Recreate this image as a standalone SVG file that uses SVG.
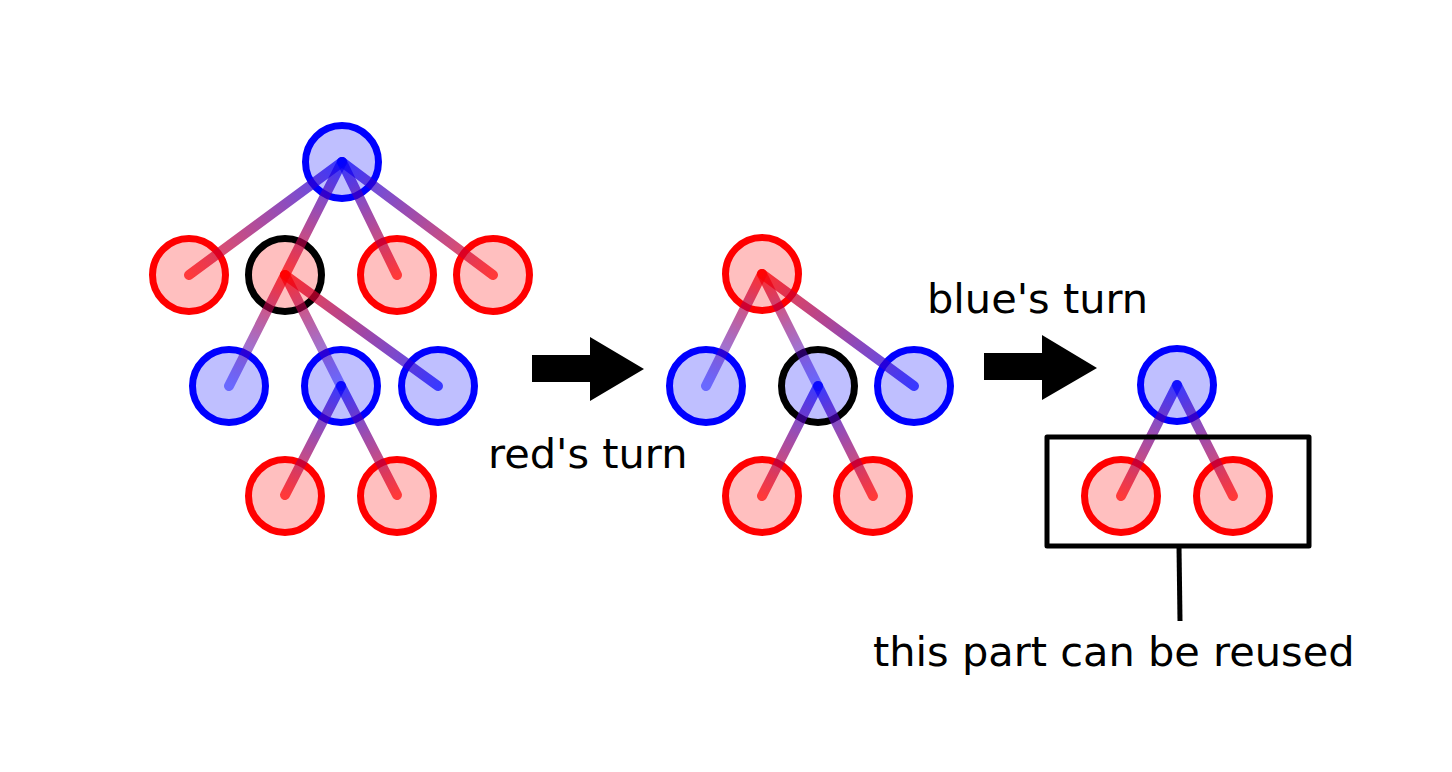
<svg xmlns="http://www.w3.org/2000/svg" width="1452" height="772" viewBox="0 0 1452 772">
<style>
.b{fill:#bfbfff;stroke:#0000ff;stroke-width:7}
.r{fill:#ffbfbf;stroke:#ff0000;stroke-width:7}
.k{stroke:#000000}
.e{stroke-width:10;stroke-linecap:round;fill:none}
.t{font-family:"DejaVu Sans","Liberation Sans",sans-serif;font-size:41.5px;fill:#000}
</style>
<defs>
<linearGradient id="g1" gradientUnits="userSpaceOnUse" x1="342" y1="162" x2="189" y2="275"><stop offset="0" stop-color="#0000ff" stop-opacity="0.7"/><stop offset="1" stop-color="#ff0000" stop-opacity="0.7"/></linearGradient>
<linearGradient id="g2" gradientUnits="userSpaceOnUse" x1="342" y1="162" x2="285" y2="275"><stop offset="0" stop-color="#0000ff" stop-opacity="0.7"/><stop offset="1" stop-color="#ff0000" stop-opacity="0.7"/></linearGradient>
<linearGradient id="g3" gradientUnits="userSpaceOnUse" x1="342" y1="162" x2="397" y2="275"><stop offset="0" stop-color="#0000ff" stop-opacity="0.7"/><stop offset="1" stop-color="#ff0000" stop-opacity="0.7"/></linearGradient>
<linearGradient id="g4" gradientUnits="userSpaceOnUse" x1="342" y1="162" x2="493" y2="275"><stop offset="0" stop-color="#0000ff" stop-opacity="0.7"/><stop offset="1" stop-color="#ff0000" stop-opacity="0.7"/></linearGradient>
<linearGradient id="g5" gradientUnits="userSpaceOnUse" x1="285" y1="275" x2="229" y2="386"><stop offset="0" stop-color="#ff0000" stop-opacity="0.75"/><stop offset="1" stop-color="#0000ff" stop-opacity="0.45"/></linearGradient>
<linearGradient id="g6" gradientUnits="userSpaceOnUse" x1="285" y1="275" x2="341" y2="386"><stop offset="0" stop-color="#ff0000" stop-opacity="0.75"/><stop offset="1" stop-color="#0000ff" stop-opacity="0.45"/></linearGradient>
<linearGradient id="g7" gradientUnits="userSpaceOnUse" x1="285" y1="275" x2="438" y2="386"><stop offset="0" stop-color="#ff0000" stop-opacity="0.75"/><stop offset="1" stop-color="#0000ff" stop-opacity="0.7"/></linearGradient>
<linearGradient id="g8" gradientUnits="userSpaceOnUse" x1="341" y1="386" x2="285" y2="495"><stop offset="0" stop-color="#0000ff" stop-opacity="0.7"/><stop offset="1" stop-color="#ff0000" stop-opacity="0.7"/></linearGradient>
<linearGradient id="g9" gradientUnits="userSpaceOnUse" x1="341" y1="386" x2="397" y2="495"><stop offset="0" stop-color="#0000ff" stop-opacity="0.7"/><stop offset="1" stop-color="#ff0000" stop-opacity="0.7"/></linearGradient>
<linearGradient id="h1" gradientUnits="userSpaceOnUse" x1="762" y1="274" x2="706" y2="386"><stop offset="0" stop-color="#ff0000" stop-opacity="0.75"/><stop offset="1" stop-color="#0000ff" stop-opacity="0.45"/></linearGradient>
<linearGradient id="h2" gradientUnits="userSpaceOnUse" x1="762" y1="274" x2="818" y2="386"><stop offset="0" stop-color="#ff0000" stop-opacity="0.75"/><stop offset="1" stop-color="#0000ff" stop-opacity="0.45"/></linearGradient>
<linearGradient id="h3" gradientUnits="userSpaceOnUse" x1="762" y1="274" x2="914" y2="386"><stop offset="0" stop-color="#ff0000" stop-opacity="0.75"/><stop offset="1" stop-color="#0000ff" stop-opacity="0.7"/></linearGradient>
<linearGradient id="h4" gradientUnits="userSpaceOnUse" x1="818" y1="386" x2="762" y2="496"><stop offset="0" stop-color="#0000ff" stop-opacity="0.7"/><stop offset="1" stop-color="#ff0000" stop-opacity="0.7"/></linearGradient>
<linearGradient id="h5" gradientUnits="userSpaceOnUse" x1="818" y1="386" x2="873" y2="496"><stop offset="0" stop-color="#0000ff" stop-opacity="0.7"/><stop offset="1" stop-color="#ff0000" stop-opacity="0.7"/></linearGradient>
<linearGradient id="j1" gradientUnits="userSpaceOnUse" x1="1177" y1="385" x2="1121" y2="496"><stop offset="0" stop-color="#0000ff" stop-opacity="0.7"/><stop offset="1" stop-color="#ff0000" stop-opacity="0.7"/></linearGradient>
<linearGradient id="j2" gradientUnits="userSpaceOnUse" x1="1177" y1="385" x2="1233" y2="496"><stop offset="0" stop-color="#0000ff" stop-opacity="0.7"/><stop offset="1" stop-color="#ff0000" stop-opacity="0.7"/></linearGradient>
</defs>

<g id="tree1">
<g id="t1-root"><circle class="b" cx="342" cy="162" r="36.5"/></g>
<g id="t1-a"><circle class="r" cx="189" cy="275" r="36.5"/></g>
<g id="t1-b"><circle class="r k" cx="285" cy="275" r="36.5"/></g>
<g id="t1-c"><circle class="r" cx="397" cy="275" r="36.5"/></g>
<g id="t1-d"><circle class="r" cx="493" cy="275" r="36.5"/></g>
<g id="t1-e"><circle class="b" cx="229" cy="386" r="36.5"/></g>
<g id="t1-f"><circle class="b" cx="341" cy="386" r="36.5"/></g>
<g id="t1-g"><circle class="b" cx="438" cy="386" r="36.5"/></g>
<g id="t1-h"><circle class="r" cx="285" cy="496" r="36.5"/></g>
<g id="t1-i"><circle class="r" cx="397" cy="496" r="36.5"/></g>
</g>

<g id="tree2">
<g id="t2-root"><circle class="r" cx="762" cy="274" r="36.5"/></g>
<g id="t2-a"><circle class="b" cx="706" cy="386" r="36.5"/></g>
<g id="t2-b"><circle class="b k" cx="818" cy="386" r="36.5"/></g>
<g id="t2-c"><circle class="b" cx="914" cy="386" r="36.5"/></g>
<g id="t2-d"><circle class="r" cx="762" cy="496" r="36.5"/></g>
<g id="t2-e"><circle class="r" cx="873" cy="496" r="36.5"/></g>
</g>

<g id="tree3">
<g id="t3-root"><circle class="b" cx="1177" cy="385" r="36.5"/></g>
<g id="t3-a"><circle class="r" cx="1121" cy="496" r="36.5"/></g>
<g id="t3-b"><circle class="r" cx="1233" cy="496" r="36.5"/></g>
</g>

<g id="connectors" class="e">
<line x1="342" y1="162" x2="189" y2="275" stroke="url(#g1)"/>
<line x1="342" y1="162" x2="285" y2="275" stroke="url(#g2)"/>
<line x1="342" y1="162" x2="397" y2="275" stroke="url(#g3)"/>
<line x1="342" y1="162" x2="493" y2="275" stroke="url(#g4)"/>
<line x1="285" y1="275" x2="229" y2="386" stroke="url(#g5)"/>
<line x1="285" y1="275" x2="341" y2="386" stroke="url(#g6)"/>
<line x1="285" y1="275" x2="438" y2="386" stroke="url(#g7)"/>
<line x1="341" y1="386" x2="285" y2="495" stroke="url(#g8)"/>
<line x1="341" y1="386" x2="397" y2="495" stroke="url(#g9)"/>
<line x1="762" y1="274" x2="706" y2="386" stroke="url(#h1)"/>
<line x1="762" y1="274" x2="818" y2="386" stroke="url(#h2)"/>
<line x1="762" y1="274" x2="914" y2="386" stroke="url(#h3)"/>
<line x1="818" y1="386" x2="762" y2="496" stroke="url(#h4)"/>
<line x1="818" y1="386" x2="873" y2="496" stroke="url(#h5)"/>
<line x1="1177" y1="385" x2="1121" y2="496" stroke="url(#j1)"/>
<line x1="1177" y1="385" x2="1233" y2="496" stroke="url(#j2)"/>
</g>

<g id="arrows">
<path d="M532,355 H590 V337 L644,369 L590,401 V382 H532 Z" fill="#000"/>
<path d="M984,353 H1042 V335 L1097,368 L1042,400 V380 H984 Z" fill="#000"/>
</g>

<g id="reuse-box">
<rect x="1047" y="437" width="262" height="109" fill="none" stroke="#000" stroke-width="5" stroke-linejoin="round"/>
<line x1="1179" y1="546" x2="1180" y2="621" stroke="#000" stroke-width="5"/>
</g>

<text class="t" x="488" y="468">red's turn</text>
<text class="t" x="927" y="313">blue's turn</text>
<text class="t" x="873" y="666">this part can be reused</text>
</svg>
